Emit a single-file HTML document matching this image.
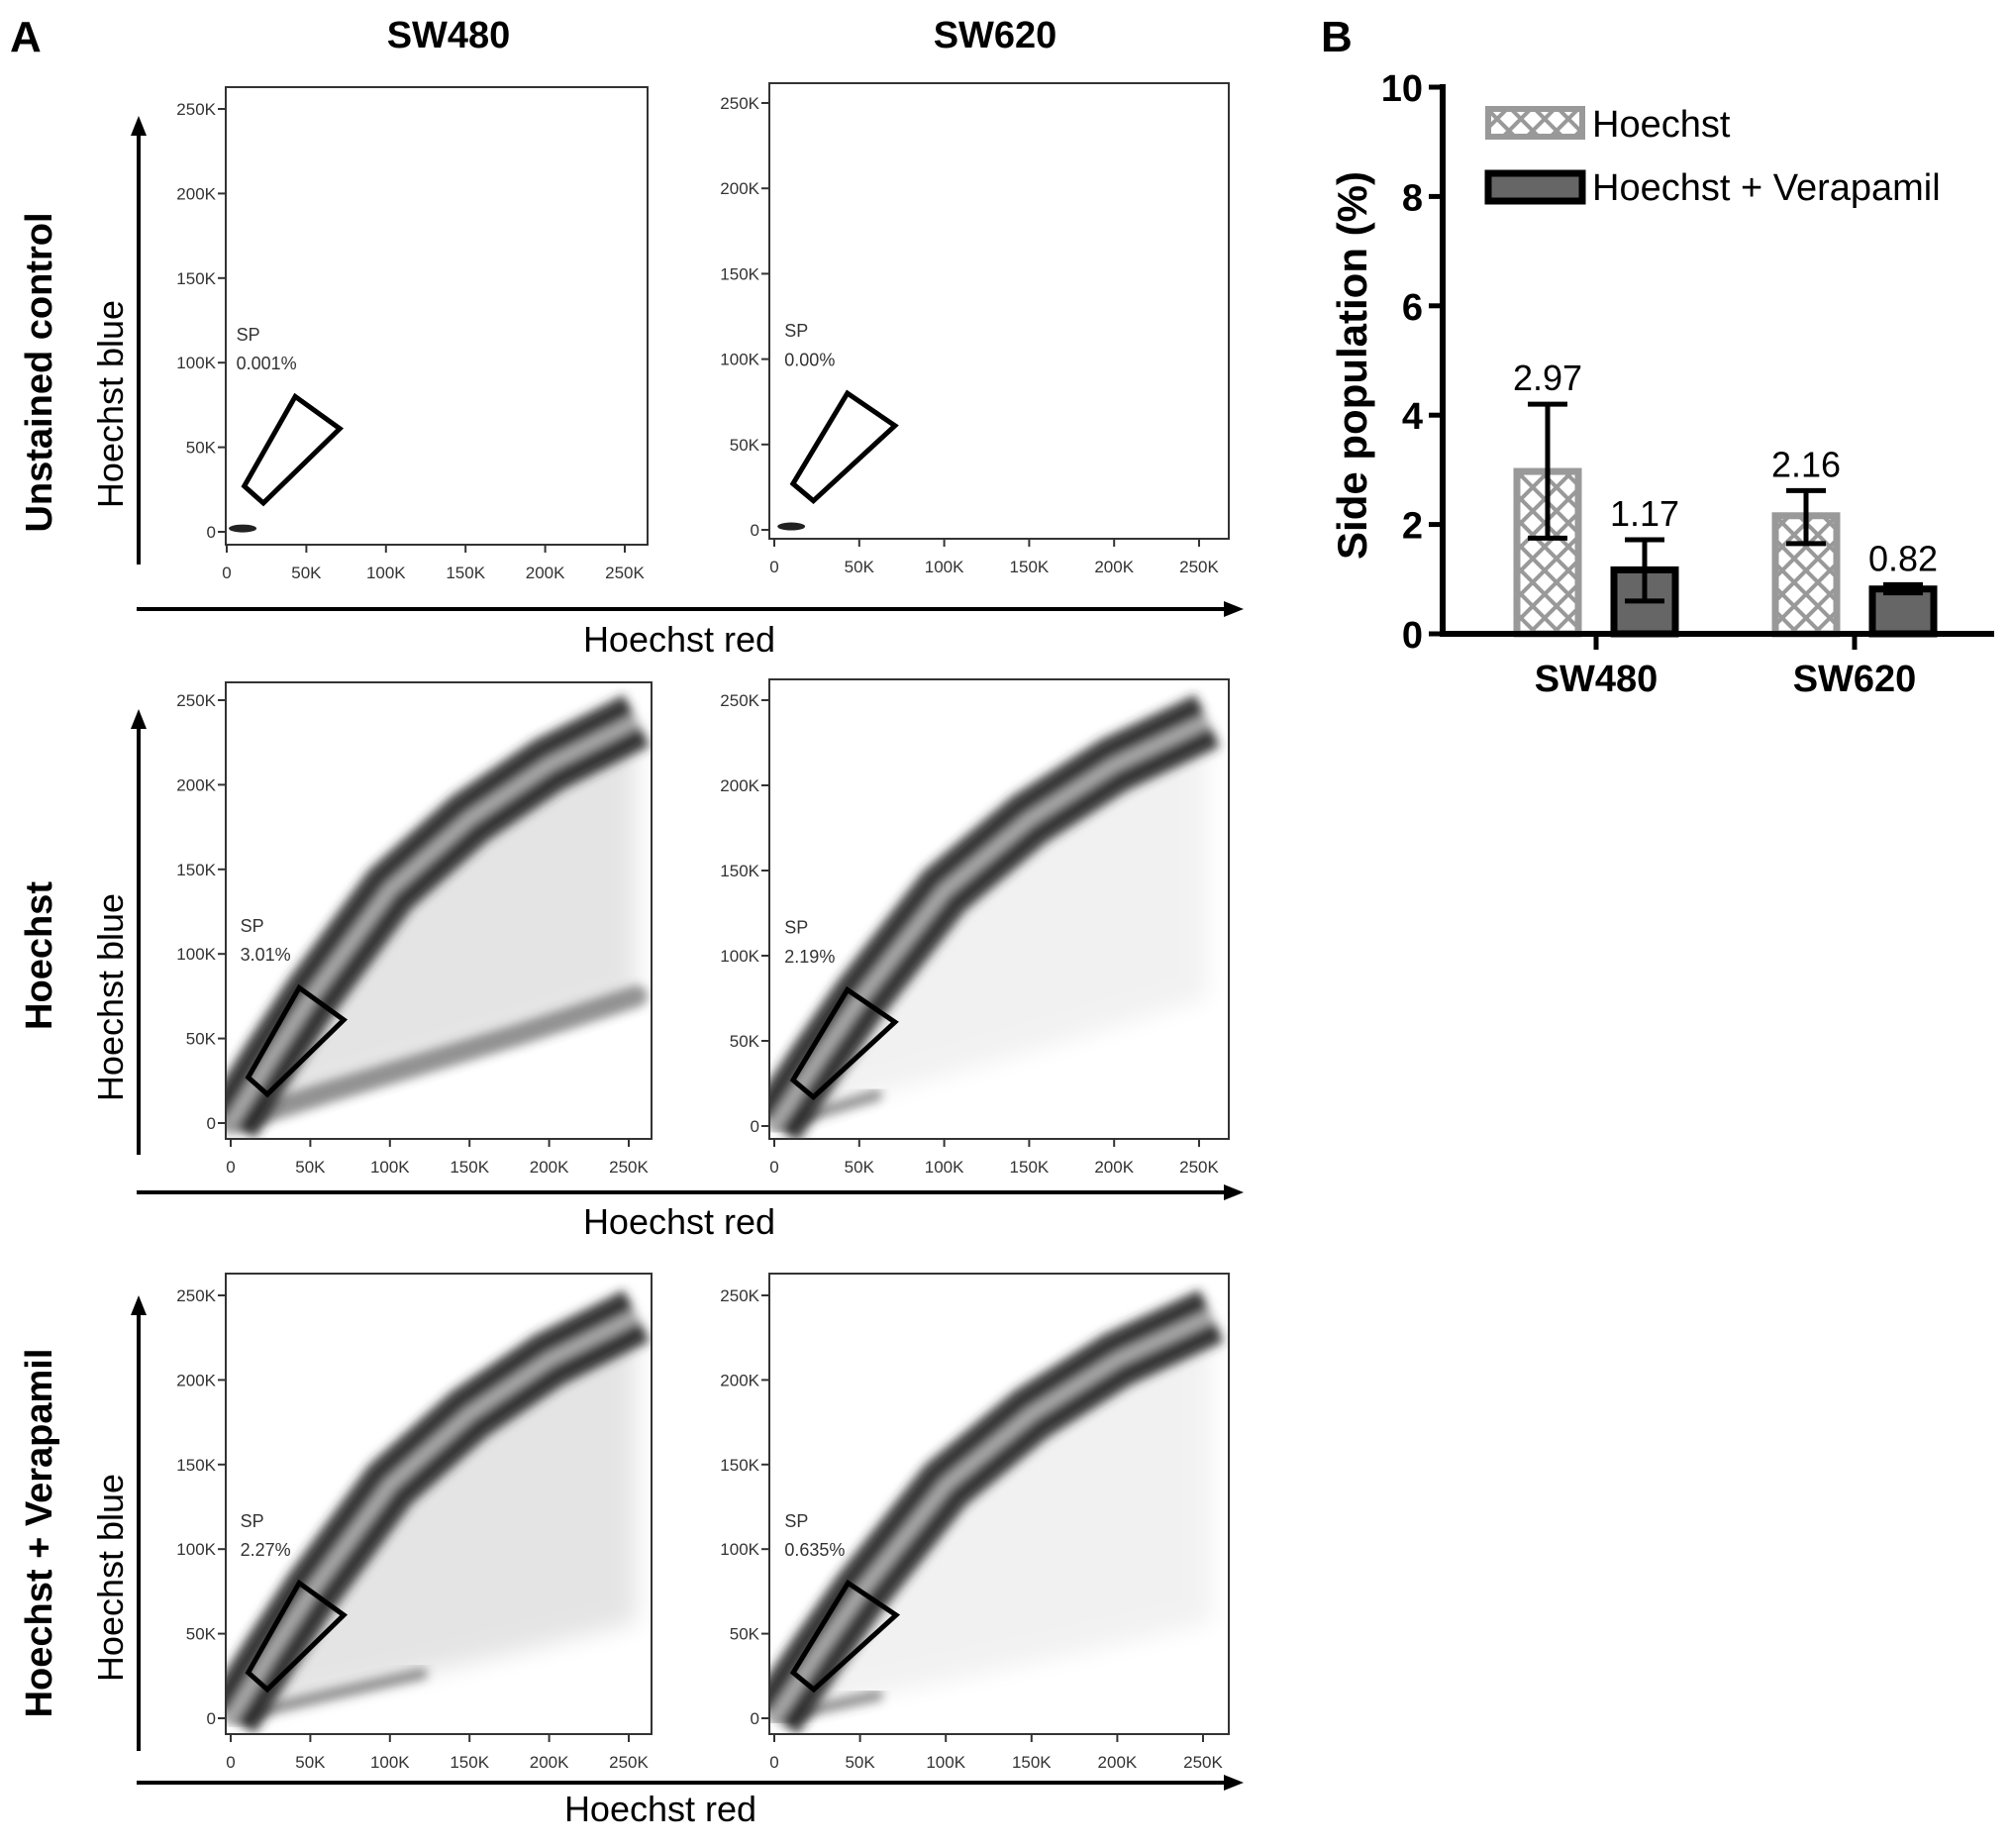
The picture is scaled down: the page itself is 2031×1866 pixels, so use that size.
<!DOCTYPE html>
<html><head><meta charset="utf-8"><style>
html,body{margin:0;padding:0;background:#fff}
svg{display:block;font-family:"Liberation Sans",sans-serif}
</style></head><body>
<svg id="fig" width="2031" height="1866" viewBox="0 0 2031 1866">
<text x="10" y="52" font-size="44" font-weight="bold">A</text>
<text x="453" y="48" font-size="38" font-weight="bold" text-anchor="middle">SW480</text>
<text x="1005" y="48" font-size="38" font-weight="bold" text-anchor="middle">SW620</text>
<text x="1334" y="52" font-size="44" font-weight="bold">B</text>
<g id="panels"></g>
<g id="bars"></g>
</svg>
<script>
// ---- Bar chart data ----
const categories = ["SW480", "SW620"];
const seriesNames = ["Hoechst", "Hoechst + Verapamil"];
const hoechstValues = [2.97, 2.16];
const verapamilValues = [1.17, 0.82];
const hoechstErrLow = [1.75, 1.65];
const hoechstErrHigh = [4.2, 2.62];
const verapamilErrLow = [0.6, 0.75];
const verapamilErrHigh = [1.72, 0.9];
const yTicks = [0, 2, 4, 6, 8, 10];
// ---- Flow panels data ----
const rowLabels = ["Unstained control", "Hoechst", "Hoechst + Verapamil"];
const spValues = [["0.001%", "0.00%"], ["3.01%", "2.19%"], ["2.27%", "0.635%"]];
const flowTicks = [0, 50, 100, 150, 200, 250];
const bandRed = [0, 25, 50, 100, 150, 200, 255];
const bandBlue = [0, 38, 74, 138, 180, 212, 238];
const lowerRed = [0, 60, 120, 180, 255];
const lowerBlue = [0, 18, 35, 52, 75];
const gateRed = [11, 43, 71, 23];
const gateBlue = [27, 80, 61, 17];

const NS = "http://www.w3.org/2000/svg";
function mk(tag, attrs, parent, txt) {
  const e = document.createElementNS(NS, tag);
  for (const k in attrs) e.setAttribute(k, attrs[k]);
  if (txt !== undefined) e.textContent = txt;
  parent.appendChild(e);
  return e;
}

const defs = mk("defs", {}, document.getElementById("fig"));
const blur = mk("filter", {id:"blur", x:"-20%", y:"-20%", width:"140%", height:"140%"}, defs);
mk("feGaussianBlur", {stdDeviation:5}, blur);
const blur2 = mk("filter", {id:"blur2", x:"-20%", y:"-20%", width:"140%", height:"140%"}, defs);
mk("feGaussianBlur", {stdDeviation:12}, blur2);

// ---------- Panel A ----------
const panelsG = document.getElementById("panels");
const frames = [
  [[228,654,88,550,229,631,537,110],[777,1241,84,544,782,1211,535,104]],
  [[228,658,689,1150,233,635,1134,707],[777,1241,686,1150,782,1211,1137,707]],
  [[228,658,1286,1751,233,635,1735,1308],[777,1241,1286,1751,782,1215,1735,1308]]
];
const rowAxis = [
  {vx:140, vTop:117, vBot:570, hy:615, hEnd:1256, redX:686, redY:658, blueY:408, rowY:376},
  {vx:140, vTop:716, vBot:1166, hy:1204, hEnd:1256, redX:686, redY:1246, blueY:1007, rowY:965},
  {vx:140, vTop:1308, vBot:1768, hy:1800, hEnd:1256, redX:667, redY:1839, blueY:1593, rowY:1548}
];
for (let r = 0; r < 3; r++) {
  const ax = rowAxis[r];
  const rg = mk("g", {}, panelsG);
  
  
  let t = mk("text", {transform:`translate(52,${ax.rowY}) rotate(-90)`, "font-size":38, "font-weight":"bold", "text-anchor":"middle"}, rg, rowLabels[r]);
  
  
  t = mk("text", {transform:`translate(124,${ax.blueY}) rotate(-90)`, "font-size":36, "text-anchor":"middle"}, rg, "Hoechst blue");
  
  
  t = mk("text", {x:ax.redX, y:ax.redY, "font-size":36, "text-anchor":"middle"}, rg, "Hoechst red");
  
  
  let l = mk("line", {x1:ax.vx, y1:ax.vBot, x2:ax.vx, y2:ax.vTop+18, stroke:"#000", "stroke-width":4}, rg);
  
  
  mk("polygon", {points:`${ax.vx-8},${ax.vTop+20} ${ax.vx+8},${ax.vTop+20} ${ax.vx},${ax.vTop}`, fill:"#000"}, rg);
  l = mk("line", {x1:ax.vx-2, y1:ax.hy, x2:ax.hEnd-18, y2:ax.hy, stroke:"#000", "stroke-width":4}, rg);
  
  
  mk("polygon", {points:`${ax.hEnd-20},${ax.hy-8} ${ax.hEnd-20},${ax.hy+8} ${ax.hEnd},${ax.hy}`, fill:"#000"}, rg);

  for (let c = 0; c < 2; c++) {
    const f = frames[r][c];
    const [fx0, fx1, fy0, fy1, x0, x250, y0, y250] = f;
    const X = v => x0 + (x250 - x0) * v / 250;
    const Y = v => y0 + (y250 - y0) * v / 250;
    const g = mk("g", {}, rg);
    
    
    const cid = "clip" + r + c;
    const cp = mk("clipPath", {id:cid}, defs);
    mk("rect", {x:fx0, y:fy0, width:fx1-fx0, height:fy1-fy0}, cp);
    const dg = mk("g", {"clip-path":`url(#${cid})`}, g);
    if (r > 0) {
      const pts = bandRed.map((v,i)=>`${X(v)},${Y(bandBlue[i])}`);
      const lowScale = r===2 ? 0.75 : 1;
      const lowPts = lowerRed.slice().reverse().map((v,i)=>`${X(v)},${Y(lowerBlue[lowerBlue.length-1-i]*lowScale)}`);
      let sp = mk("polygon", {points: pts.concat(lowPts).join(" "), fill:"#000", opacity: c===1 ? 0.05 : 0.1, filter:"url(#blur2)"}, dg);
      
      
      const n = c === 0 ? (r===1 ? lowerRed.length : 3) : 2;
      const lp = lowerRed.slice(0,n).map((v,i)=>`${X(v)},${Y(lowerBlue[i]*lowScale)}`).join(" ");
      let lo = mk("polyline", {points:lp, fill:"none", stroke:"#333", "stroke-width": c===0 && r===1 ? 22 : 12, opacity:0.5, "stroke-linecap":"round", filter:"url(#blur)"}, dg);
      
      
      const bg2 = mk("g", {filter:"url(#blur)"}, dg);
      const bp = pts.join(" ");
      let b1 = mk("polyline", {points:bp, fill:"none", stroke:"#2a2a2a", "stroke-width":58, "stroke-linejoin":"round", opacity:0.9}, bg2);
      
      
      mk("polyline", {points:bp, fill:"none", stroke:"#1a1a1a", "stroke-width":34, "stroke-linejoin":"round", opacity:0.6}, bg2);
      mk("polyline", {points:bp, fill:"none", stroke:"#a8a8a8", "stroke-width":14, "stroke-linejoin":"round"}, bg2);
    } else {
      mk("ellipse", {cx:X(10), cy:Y(2), rx:14, ry:4, fill:"#222"}, dg);
    }
    let fr = mk("rect", {x:fx0, y:fy0, width:fx1-fx0, height:fy1-fy0, fill:"none", stroke:"#333", "stroke-width":2}, g);
    
    
    for (const tv of flowTicks) {
      mk("line", {x1:X(tv), y1:fy1, x2:X(tv), y2:fy1+8, stroke:"#333", "stroke-width":2}, g);
      let tx = mk("text", {x:X(tv), y:fy1+34, "font-size":17, fill:"#333", "text-anchor":"middle"}, g, tv===0?"0":tv+"K");
      
      
      mk("line", {x1:fx0-8, y1:Y(tv), x2:fx0, y2:Y(tv), stroke:"#333", "stroke-width":2}, g);
      let ty = mk("text", {x:fx0-10, y:Y(tv)+6, "font-size":17, fill:"#333", "text-anchor":"end"}, g, tv===0?"0":tv+"K");
      
      
    }
    const gp = gateRed.map((v,i)=>`${X(v)},${Y(gateBlue[i])}`).join(" ");
    let gate = mk("polygon", {points:gp, fill:"none", stroke:"#000", "stroke-width":5}, g);
    
    
    let s1 = mk("text", {x:X(6), y:Y(113), "font-size":18, fill:"#333"}, g, "SP");
    
    
    let s2 = mk("text", {x:X(6), y:Y(96), "font-size":18, fill:"#333"}, g, spValues[r][c]);
    
    
  }
}

// ---------- Panel B ----------
const bg = document.getElementById("bars");
const AX = 1457, Y0 = 640, Y10 = 88;
const yS = v => Y0 + (Y10 - Y0) * v / 10;
const catCenters = [1612, 1873];
const off = 49, bw = 62;
const pat = mk("pattern", {id:"hatch", width:24, height:24, patternUnits:"userSpaceOnUse"}, defs);
mk("rect", {width:24, height:24, fill:"#fff"}, pat);
mk("path", {d:"M0,0 L24,24 M24,0 L0,24", stroke:"#999", "stroke-width":4}, pat);

let yl = mk("text", {transform:`translate(1380,369) rotate(-90)`, "font-size":42, "font-weight":"bold", "text-anchor":"middle"}, bg, "Side population (%)");


for (const tv of yTicks) {
  mk("line", {x1:AX-14, y1:yS(tv), x2:AX, y2:yS(tv), stroke:"#000", "stroke-width":5}, bg);
  let t = mk("text", {x:AX-20, y:yS(tv)+14, "font-size":38, "font-weight":"bold", "text-anchor":"end"}, bg, String(tv));
  
  
}
function drawBar(cx, v, lo, hi, hatched, name) {
  const top = yS(v);
  let b = mk("rect", {x:cx-bw/2, y:top, width:bw, height:Y0-top, fill: hatched ? "url(#hatch)" : "#666", stroke: hatched ? "#999" : "#000", "stroke-width":7}, bg);
  
  
  const e = mk("path", {d:`M${cx},${yS(lo)} V${yS(hi)} M${cx-20},${yS(lo)} H${cx+20} M${cx-20},${yS(hi)} H${cx+20}`, stroke:"#000", "stroke-width":5, fill:"none"}, bg);
  
  
  const t = mk("text", {x:cx, y:Math.min(yS(hi), top) - 14, "font-size":36, "text-anchor":"middle"}, bg, v.toFixed(2));
  
  
}
for (let i = 0; i < categories.length; i++) {
  drawBar(catCenters[i]-off, hoechstValues[i], hoechstErrLow[i], hoechstErrHigh[i], true, 'bar-hoechst-' + categories[i].toLowerCase());
  drawBar(catCenters[i]+off, verapamilValues[i], verapamilErrLow[i], verapamilErrHigh[i], false, 'bar-verapamil-' + categories[i].toLowerCase());
  mk("line", {x1:catCenters[i], y1:Y0, x2:catCenters[i], y2:Y0+16, stroke:"#000", "stroke-width":5}, bg);
  const t = mk("text", {x:catCenters[i], y:Y0+58, "font-size":38, "font-weight":"bold", "text-anchor":"middle"}, bg, categories[i]);
  
  
}
let yax = mk("line", {x1:AX, y1:Y10-3, x2:AX, y2:Y0+3, stroke:"#000", "stroke-width":6}, bg);


let xax = mk("line", {x1:AX-3, y1:Y0, x2:2014, y2:Y0, stroke:"#000", "stroke-width":6}, bg);


let lg1 = mk("rect", {x:1503, y:110, width:95, height:28, fill:"url(#hatch)", stroke:"#999", "stroke-width":6}, bg);


let lt1 = mk("text", {x:1608, y:138, "font-size":38}, bg, seriesNames[0]);


let lg2 = mk("rect", {x:1503, y:175, width:95, height:28, fill:"#666", stroke:"#000", "stroke-width":7}, bg);


let lt2 = mk("text", {x:1608, y:202, "font-size":38}, bg, seriesNames[1]);


</script>
</body></html>
